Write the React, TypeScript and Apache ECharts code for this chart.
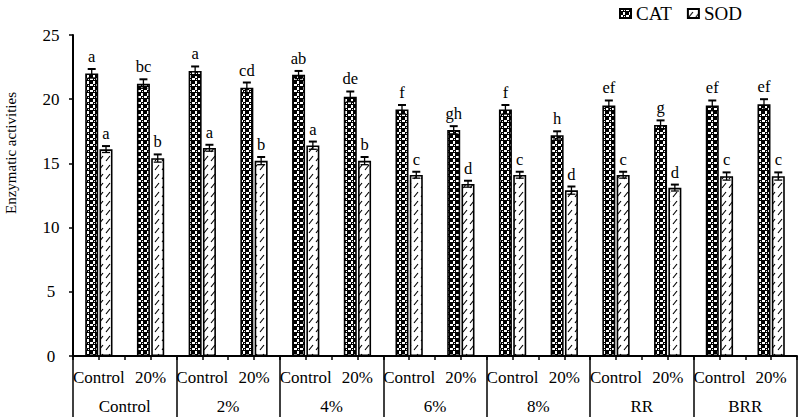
import React, { useEffect, useRef } from 'react';
import * as echarts from 'echarts';

const groups = ['Control', '2%', '4%', '6%', '8%', 'RR', 'BRR'];
const subCategories = [
  'Control', '20%', 'Control', '20%', 'Control', '20%', 'Control', '20%',
  'Control', '20%', 'Control', '20%', 'Control', '20%',
];
const catValues = [22.0, 21.2, 22.2, 20.9, 21.9, 20.2, 19.2, 17.6, 19.2, 17.2, 19.5, 18.0, 19.5, 19.6];
const catErrors = [0.35, 0.35, 0.35, 0.4, 0.3, 0.4, 0.35, 0.3, 0.35, 0.3, 0.4, 0.35, 0.4, 0.4];
const catLetters = ['a', 'bc', 'a', 'cd', 'ab', 'de', 'f', 'gh', 'f', 'h', 'ef', 'g', 'ef', 'ef'];
const sodValues = [16.1, 15.4, 16.2, 15.2, 16.4, 15.2, 14.1, 13.4, 14.1, 12.9, 14.1, 13.1, 14.0, 14.0];
const sodErrors = [0.25, 0.3, 0.25, 0.3, 0.3, 0.3, 0.25, 0.25, 0.25, 0.3, 0.25, 0.25, 0.3, 0.3];
const sodLetters = ['a', 'b', 'a', 'b', 'a', 'b', 'c', 'd', 'c', 'd', 'c', 'd', 'c', 'c'];
const seriesNames = ['CAT', 'SOD'];
const yAxisTitle = 'Enzymatic activities';

const FONT = '"Liberation Serif", "Times New Roman", serif';
const BAR_W = 13;
const BAR_GAP_PX = 1.3;

function catPattern() {
  const c = document.createElement('canvas');
  c.width = 6;
  c.height = 6;
  const g = c.getContext('2d')!;
  g.fillStyle = '#000';
  g.fillRect(0, 0, 6, 6);
  g.fillStyle = '#fff';
  g.fillRect(0, 0, 3, 2);
  g.fillRect(3, 3, 2, 3);
  g.fillRect(4, 1, 1, 1);
  return { image: c.toDataURL(), repeat: 'repeat', imageWidth: 6, imageHeight: 6 };
}

function sodPattern() {
  const c = document.createElement('canvas');
  c.width = 7;
  c.height = 9;
  const g = c.getContext('2d')!;
  g.fillStyle = '#fff';
  g.fillRect(0, 0, 7, 9);
  g.strokeStyle = '#000';
  g.lineWidth = 1.2;
  g.beginPath();
  g.moveTo(1, 8);
  g.lineTo(5, 3);
  g.stroke();
  return { image: c.toDataURL(), repeat: 'repeat', imageWidth: 7, imageHeight: 9 };
}

function errSeries(name: string, values: number[], errs: number[], letters: string[], sign: number) {
  return {
    type: 'custom',
    name: name + ' err',
    xAxisIndex: 0,
    yAxisIndex: 0,
    z: 5,
    silent: true,
    data: values.map((v, i) => [i, v, errs[i]]),
    renderItem: (params: any, api: any) => {
      const idx = api.value(0);
      const v = api.value(1);
      const e = api.value(2);
      const c = api.coord([idx, v]);
      const hi = api.coord([idx, v + e]);
      const lo = api.coord([idx, v - e]);
      const x = c[0] + sign * (BAR_W + BAR_GAP_PX) / 2;
      const cap = 4;
      return {
        type: 'group',
        children: [
          { type: 'line', shape: { x1: x, y1: lo[1], x2: x, y2: hi[1] }, style: { stroke: '#000', lineWidth: 1.3 } },
          { type: 'line', shape: { x1: x - cap, y1: hi[1], x2: x + cap, y2: hi[1] }, style: { stroke: '#000', lineWidth: 2 } },
          { type: 'line', shape: { x1: x - cap, y1: lo[1], x2: x + cap, y2: lo[1] }, style: { stroke: '#000', lineWidth: 1.3 } },
          {
            type: 'text',
            x: x,
            y: hi[1] - 4,
            style: {
              text: letters[params.dataIndex],
              fill: '#000',
              fontSize: 16.5,
              fontFamily: FONT,
              align: 'center',
              verticalAlign: 'bottom',
            },
          },
        ],
      };
    },
  };
}

export default function App() {
  const ref = useRef<HTMLDivElement>(null);
  useEffect(() => {
    if (!ref.current) return;
    const chart = echarts.init(ref.current, undefined, { renderer: 'svg' });
    const catFill = catPattern();
    const sodFill = sodPattern();
    const option: any = {
      animation: false,
      backgroundColor: '#fff',
      textStyle: { fontFamily: FONT, color: '#000' },
      grid: { left: 73, right: 1, top: 35, bottom: 61, containLabel: false },
      legend: {
        data: seriesNames,
        left: 614,
        top: -1,
        itemWidth: 11,
        itemHeight: 9,
        itemGap: 15,
        icon: 'rect',
        textStyle: { fontFamily: FONT, fontSize: 19, color: '#000' },
      },
      xAxis: [
        {
          type: 'category',
          data: subCategories,
          position: 'bottom',
          axisLine: { show: true, lineStyle: { color: '#000', width: 2 } },
          axisTick: { show: true, alignWithLabel: false, length: 4, lineStyle: { color: '#000', width: 1.5 } },
          axisLabel: { interval: 0, margin: 13, fontSize: 17, fontFamily: FONT, color: '#000' },
          splitLine: { show: false },
        },
        {
          type: 'category',
          data: subCategories,
          position: 'bottom',
          axisLine: { show: false },
          axisTick: { show: true, alignWithLabel: true, length: 4, lineStyle: { color: '#000', width: 1.5 } },
          axisLabel: { show: false },
          splitLine: { show: false },
        },
        {
          type: 'category',
          data: groups,
          position: 'bottom',
          axisLine: { show: false },
          axisTick: { show: true, alignWithLabel: false, length: 62, lineStyle: { color: '#000', width: 1.5 } },
          axisLabel: { interval: 0, margin: 42, fontSize: 17, fontFamily: FONT, color: '#000' },
          splitLine: { show: false },
        },
      ],
      yAxis: {
        type: 'value',
        min: 0,
        max: 25,
        interval: 5,
        axisLine: { show: true, lineStyle: { color: '#000', width: 2 } },
        axisTick: { show: true, inside: false, length: 4, lineStyle: { color: '#000', width: 1.5 } },
        axisLabel: { margin: 22, align: 'center', fontSize: 17, fontFamily: FONT, color: '#000' },
        splitLine: { show: false },
      },
      graphic: [
        {
          type: 'text',
          x: 11,
          y: 153,
          rotation: Math.PI / 2,
          style: {
            text: yAxisTitle,
            fill: '#000',
            fontSize: 15,
            fontFamily: FONT,
            align: 'center',
            verticalAlign: 'middle',
          },
        },
      ],
      series: [
        {
          type: 'bar',
          name: seriesNames[0],
          data: catValues,
          barWidth: BAR_W,
          barGap: '10%',
          itemStyle: { color: catFill, borderColor: '#000', borderWidth: 1.6 },
        },
        {
          type: 'bar',
          name: seriesNames[1],
          data: sodValues,
          barWidth: BAR_W,
          barGap: '10%',
          itemStyle: { color: sodFill, borderColor: '#000', borderWidth: 1.6 },
        },
        errSeries('CAT', catValues, catErrors, catLetters, -1),
        errSeries('SOD', sodValues, sodErrors, sodLetters, 1),
      ],
    };
    chart.setOption(option);
    return () => chart.dispose();
  }, []);
  return (
    <div
      ref={ref}
      style={{ position: 'absolute', left: 0, top: 0, width: 798, height: 417, background: '#fff' }}
    />
  );
}
